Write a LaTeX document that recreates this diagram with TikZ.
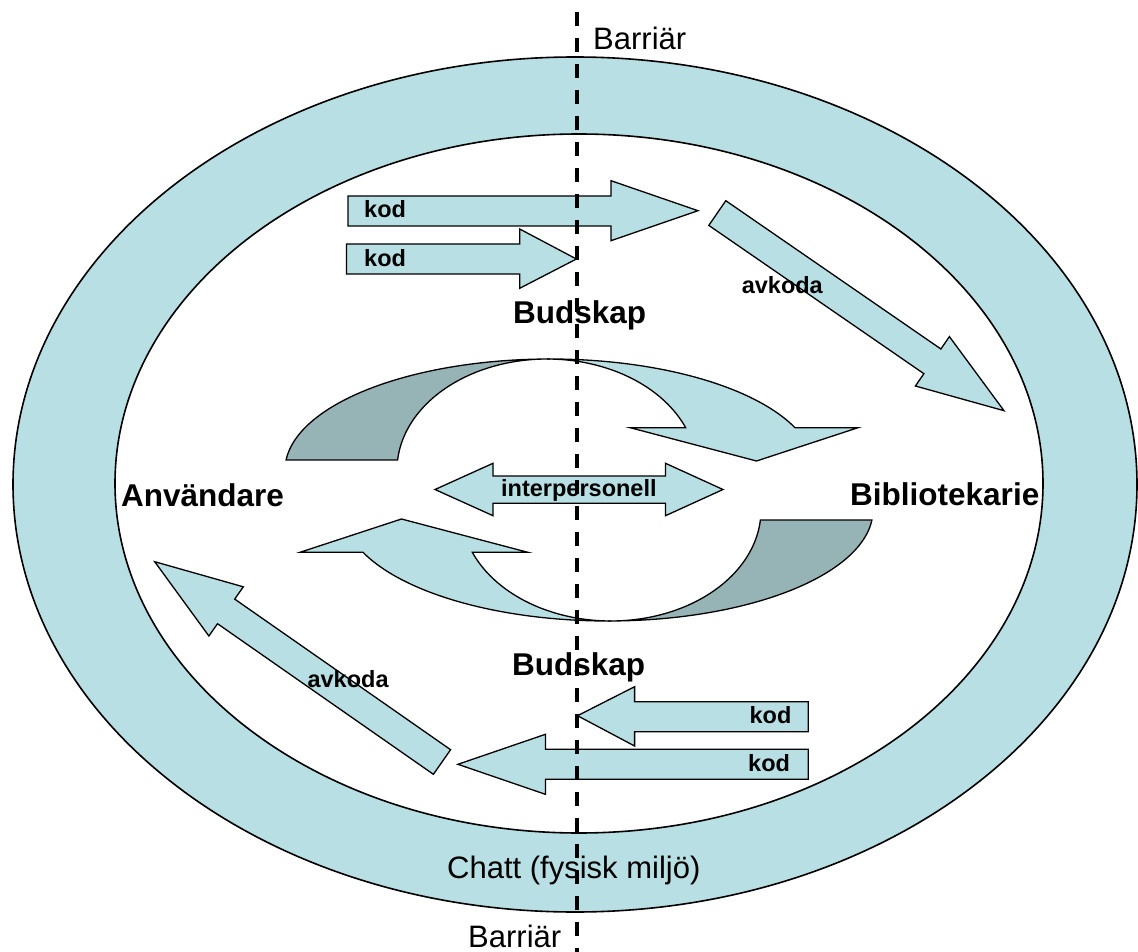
\documentclass[tikz,border=0pt]{standalone}
\usepackage{fontspec}
\setmainfont{Liberation Sans}
\definecolor{lightaqua}{RGB}{184,223,227}
\definecolor{darkaqua}{RGB}{150,179,182}
\begin{document}
\begin{tikzpicture}[x=1pt,y=-1pt,
  ring/.style={draw=black,line width=1.6pt},
  blockarrow/.style={draw=black,line width=1.3pt,fill=lightaqua,line join=miter},
  darkpart/.style={draw=black,line width=1.3pt,fill=darkaqua},
  bigbold/.style={inner sep=0pt,anchor=base west,font=\fontsize{31.5}{32}\selectfont\bfseries},
  smallbold/.style={inner sep=0pt,anchor=base west,font=\fontsize{23.5}{24}\selectfont\bfseries},
  plainlabel/.style={inner sep=0pt,anchor=base west,font=\fontsize{31}{32}\selectfont},
  barrier/.style={draw=black,line width=4pt,dash pattern=on 14pt off 12pt}
]
\useasboundingbox (0,0) rectangle (1138,952);
\fill[white] (0,0) rectangle (1138,952);

% ring (physical environment)
\draw[ring,fill=lightaqua] (575,484.5) ellipse [x radius=562,y radius=427.5];
\draw[ring,fill=white] (579,483.5) ellipse [x radius=464,y radius=349.5];
\node[plainlabel] (chatt) at (447,878) {Chatt (fysisk miljö)};

% upper curved arrow
\begin{scope}
\draw[darkpart] plot[domain=185.2:270,samples=50] ({550+265*cos(\x)},{470+111*sin(\x)})
  -- plot[domain=270:185.2,samples=50] ({547+150*cos(\x)},{470+111*sin(\x)}) -- cycle;
\draw[blockarrow] plot[domain=270:337.6,samples=50] ({550+265*cos(\x)},{470+111*sin(\x)})
  -- (858,427.7) -- (756.5,461) -- (630.2,427.7)
  -- plot[domain=337.6:270,samples=50] ({547+150*cos(\x)},{470+111*sin(\x)}) -- cycle;
\end{scope}
% lower curved arrow (point symmetric)
\begin{scope}[rotate around={180:(579,490)}]
\draw[darkpart] plot[domain=185.2:270,samples=50] ({550+265*cos(\x)},{470+111*sin(\x)})
  -- plot[domain=270:185.2,samples=50] ({547+150*cos(\x)},{470+111*sin(\x)}) -- cycle;
\draw[blockarrow] plot[domain=270:337.6,samples=50] ({550+265*cos(\x)},{470+111*sin(\x)})
  -- (858,427.7) -- (756.5,461) -- (630.2,427.7)
  -- plot[domain=337.6:270,samples=50] ({547+150*cos(\x)},{470+111*sin(\x)}) -- cycle;
\end{scope}

% interpersonell double arrow
\draw[blockarrow] (435,489.5) -- (493,463.3) -- (493,476) -- (665.5,476) -- (665.5,463.3)
  -- (723,489.5) -- (665.5,515.7) -- (665.5,503.3) -- (493,503.3) -- (493,515.7) -- cycle;
\node[smallbold] (inter) at (501,496.7) {interpersonell};

% kod arrows (top)
\draw[blockarrow] (348,196) -- (611,196) -- (611,180.7) -- (698,210.7) -- (611,240.7) -- (611,226) -- (348,226) -- cycle;
\node[smallbold] (kodA) at (364,218) {kod};
\draw[blockarrow] (346.5,244) -- (519.7,244) -- (519.7,229) -- (576.4,259) -- (519.7,288.3) -- (519.7,274) -- (346.5,274) -- cycle;
\node[smallbold] (kodB) at (364,266.7) {kod};

% kod arrows (bottom)
\draw[blockarrow] (808.3,701.7) -- (634.6,701.7) -- (634.6,686.7) -- (577.5,715.7) -- (634.6,746) -- (634.6,731.7) -- (808.3,731.7) -- cycle;
\node[smallbold] (kodC) at (749.4,723.3) {kod};
\draw[blockarrow] (808.3,749.3) -- (545.4,749.3) -- (545.4,734.3) -- (457.9,764.3) -- (545.4,794.3) -- (545.4,779.3) -- (808.3,779.3) -- cycle;
\node[smallbold] (kodD) at (748,771.7) {kod};

% avkoda arrows
\draw[blockarrow] (725.8,200.7) -- (940.9,349.0) -- (949.4,336.6) -- (1004,410.7) -- (915.4,386.0) -- (923.9,373.7) -- (708.8,225.4) -- cycle;
\node[smallbold] (avkA) at (741.6,294) {avkoda};
\draw[blockarrow] (450.6,749.7) -- (234.7,599.1) -- (243.3,586.8) -- (154.7,561.7) -- (208.9,636.0) -- (217.5,623.7) -- (433.4,774.3) -- cycle;
\node[smallbold] (avkB) at (307.4,687.3) {avkoda};

% main labels
\node[bigbold] (bud1) at (513,323) {Budskap};
\node[bigbold] (bud2) at (512,675) {Budskap};
\node[bigbold] (anv) at (121,506) {Användare};
\node[bigbold] (bib) at (850,505) {Bibliotekarie};

% barrier
\coordinate (btop) at (576.5,12);
\coordinate (bbot) at (576.5,952);
\draw[barrier] (btop) -- (bbot);
\node[plainlabel] (barr1) at (593,50) {Barriär};
\node[plainlabel] (barr2) at (468,947) {Barriär};
\end{tikzpicture}
\end{document}
